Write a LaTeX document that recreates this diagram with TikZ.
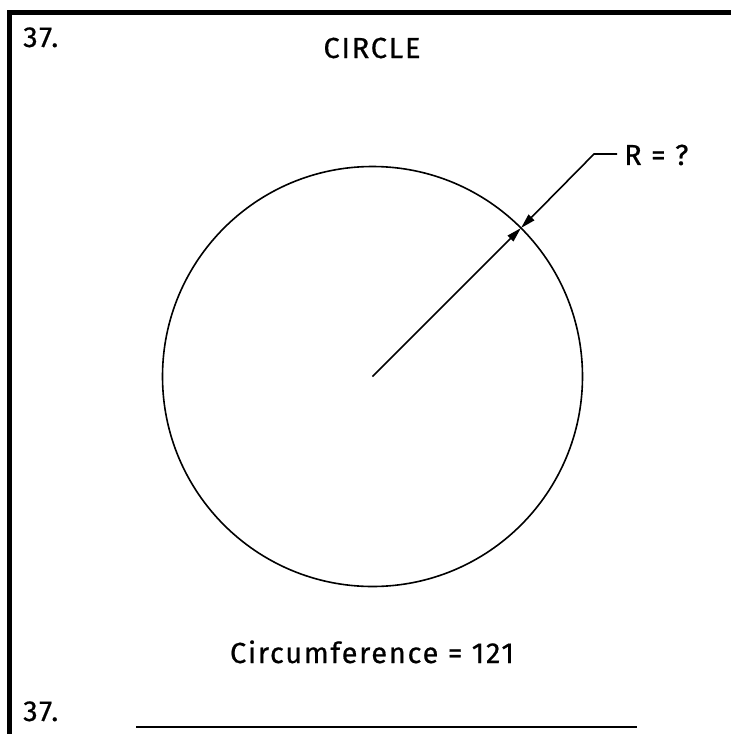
\documentclass[tikz,border=0pt]{standalone}
\usepackage{fontspec}
\setmainfont{Fira Sans}[FakeBold=0.6,LetterSpace=6]
\usetikzlibrary{positioning,arrows.meta,calc}
\tikzset{
  lbl/.style={font=\fontsize{29}{34}\selectfont,inner sep=0pt},
  thin line/.style={line width=1.6pt},
  dimarrow/.style={thin line,-{Triangle[length=15pt,width=8pt]}},
}
\begin{document}
\begin{tikzpicture}[x=1pt,y=-1pt]
	\useasboundingbox (0,0) rectangle (731,734);
	% frame
	\coordinate (fb) at (9.5,734);
	\coordinate (fc) at (9.5,12.5);
	\coordinate (fr) at (731,12.5);
	\draw[line width=5.5pt] (fb) -- (fc) -- (fr);
	% labels
	\node[lbl,anchor=base west] (num) at (23,47) {37.};
	\node[lbl,anchor=base] (title) at (372,58) {CIRCLE};
	\node[lbl,anchor=base] (circ) at (372,663) {Circumference = 121};
	\node[lbl,anchor=base west] (ans) at (23,721) {37.};
	% circle and radius
	\coordinate (O) at (372.5,376.5);
	\coordinate (rim) at ($(O)+(-45:210)$);
	\draw[thin line] (O) circle (210);
	\draw[dimarrow] (O) -- (rim);
	% leader
	\coordinate (knee) at (594,154);
	\coordinate (tail) at (617,154);
	\node[lbl,anchor=west] (R) at (624,155) {R = ?};
	\draw[dimarrow] (tail) -- (knee) -- (rim);
	% answer line
	\coordinate (la) at (136,727);
	\coordinate (lb) at (637,727);
	\draw[line width=2pt] (la) -- (lb);
\end{tikzpicture}
\end{document}
